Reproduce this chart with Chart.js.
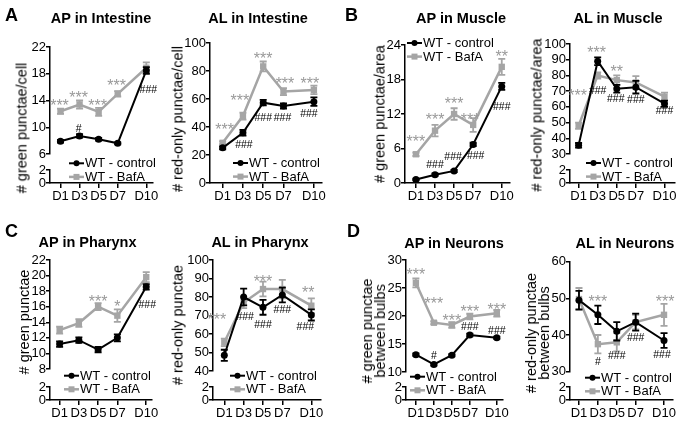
<!DOCTYPE html>
<html>
<head>
<meta charset="utf-8">
<script src="https://cdn.jsdelivr.net/npm/chart.js@4.4.1/dist/chart.umd.min.js"></script>
<style>
  body { margin: 0; background: #fff; width: 685px; height: 425px; position: relative; overflow: hidden;
         font-family: "Liberation Sans", Arial, sans-serif; color: #000; }
  canvas { position: absolute; }
  .ttl { position: absolute; transform: translate(-50%, -50%); white-space: nowrap; font-weight: bold; font-size: 14.5px; }
  .ytl { position: absolute; transform: translate(-50%, -50%) rotate(-90deg); white-space: nowrap; font-size: 14.5px;
         text-align: center; line-height: 13px; }
  .let { position: absolute; transform: translateY(-50%); font-weight: bold; font-size: 18px; }
</style>
</head>
<body>
<script>
// ---- data ----
const days = [1, 3, 5, 7, 10];
const dayLabels = ['D1', 'D3', 'D5', 'D7', 'D10'];
const seriesNames = ['WT - control', 'WT - BafA'];
const lowTicks = [0, 2];

// AP in Intestine
const apIntCtrl = [7.9, 8.7, 8.2, 7.6, 18.5];
const apIntCtrlErr = [0.2, 0.25, 0.2, 0.15, 0.5];
const apIntBafA = [12.4, 13.4, 12.3, 15.0, 18.9];
const apIntBafAErr = [0.4, 0.6, 0.6, 0.4, 0.8];
const apIntStars = ['***', '***', '***', '***', ''];
const apIntHashes = ['', '#', '', '', '###'];
const apIntTicks = [6, 10, 14, 18, 22];

// AL in Intestine
const alIntCtrl = [25.1, 35.9, 57.4, 55.0, 58.1];
const alIntCtrlErr = [1, 2, 2, 1.8, 3];
const alIntBafA = [28.7, 47.8, 83.3, 65.3, 66.5];
const alIntBafAErr = [1, 2.5, 3.5, 2.5, 3];
const alIntStars = ['***', '***', '***', '***', '***'];
const alIntHashes = ['', '###', '###', '###', '###'];
const alIntTicks = [0, 20, 40, 60, 80, 100];

// AP in Muscle
const apMusCtrl = [0.6, 1.45, 2.1, 6.7, 16.8];
const apMusCtrlErr = [0.15, 0.2, 0.2, 0.3, 0.6];
const apMusBafA = [5.0, 9.1, 12.0, 10.1, 20.2];
const apMusBafAErr = [0.3, 1.0, 1.0, 1.2, 1.4];
const apMusStars = ['***', '***', '***', '***', '**'];
const apMusHashes = ['', '###', '###', '###', '###'];
const apMusTicks = [0, 6, 12, 18, 24];

// AL in Muscle
const alMusCtrl = [35.5, 89, 71.5, 72.5, 62];
const alMusCtrlErr = [1.5, 2.5, 2.5, 4, 2];
const alMusBafA = [48, 80, 77, 75.5, 66.5];
const alMusBafAErr = [2, 2, 3, 4, 2.5];
const alMusStars = ['***', '***', '**', '', ''];
const alMusHashes = ['', '###', '###', '###', '###'];
const alMusTicks = [30, 40, 50, 60, 70, 80, 90, 100];

// AP in Pharynx
const apPhaCtrl = [11.2, 11.7, 10.5, 12.0, 18.55];
const apPhaCtrlErr = [0.35, 0.35, 0.35, 0.45, 0.35];
const apPhaBafA = [13.0, 13.9, 16.0, 14.85, 19.8];
const apPhaBafAErr = [0.45, 0.5, 0.45, 0.8, 0.65];
const apPhaStars = ['', '', '***', '*', ''];
const apPhaHashes = ['', '', '', '', '###'];
const apPhaTicks = [8, 10, 12, 14, 16, 18, 20, 22];

// AL in Pharynx
const alPhaCtrl = [48.5, 80, 74.4, 81.1, 70.3];
const alPhaCtrlErr = [3, 4.5, 4, 4, 3];
const alPhaBafA = [55.5, 77, 84.3, 84.3, 75.3];
const alPhaBafAErr = [2, 3, 4, 5, 4];
const alPhaStars = ['***', '', '***', '', '**'];
const alPhaHashes = ['', '###', '###', '###', '###'];
const alPhaTicks = [40, 50, 60, 70, 80, 90, 100];

// AP in Neurons
const apNeuCtrl = [13.1, 11.35, 13.0, 16.6, 16.1];
const apNeuCtrlErr = [0.2, 0.2, 0.2, 0.25, 0.2];
const apNeuBafA = [25.9, 18.8, 18.4, 19.9, 20.5];
const apNeuBafAErr = [0.8, 0.25, 0.5, 0.5, 0.6];
const apNeuStars = ['***', '***', '***', '***', '***'];
const apNeuHashes = ['', '#', '', '###', '###'];
const apNeuTicks = [10, 15, 20, 25, 30];

// AL in Neurons
const alNeuCtrl = [49.5, 45.5, 41.0, 43.5, 38.5];
const alNeuCtrlErr = [2.5, 2.5, 2.5, 2.3, 2];
const alNeuBafA = [49.8, 37.5, 38.0, 43.5, 45.5];
const alNeuBafAErr = [3, 2.5, 2.5, 2, 3];
const alNeuStars = ['', '***', '', '', '***'];
const alNeuHashes = ['', '#', '###', '###', '###'];
const alNeuTicks = [30, 40, 50, 60];

// ---- layout ----
const GRAY = '#a5a5a5';
const FONT = '"Liberation Sans", Arial, sans-serif';
Chart.defaults.font.family = FONT;
Chart.defaults.color = '#000';

const panels = [
  { left: 0, top: 0, w: 170, h: 210, area: { l: 50, t: 47, r: 153, b: 183 }, xMin: -0.1, xMax: 10.7,
    ticks: apIntTicks, split: [107, 16, 13], ctrl: apIntCtrl, ctrlErr: apIntCtrlErr, bafa: apIntBafA, bafaErr: apIntBafAErr,
    stars: apIntStars, hashes: apIntHashes,
    starAt: [[-1, -9.5], [-1, -11], [-1, -10], [-1, -12], [0, 0]], hashAt: [[0, 0], [-1, -8], [0, 0], [0, 0], [2, 19]],
    title: 'AP in Intestine', titleAt: [101, 18], yTitle: ['# green punctae/cell'], yTitleAt: [21.7, 128], legendAt: [69, 163.3] },
  { left: 170, top: 0, w: 170, h: 210, area: { l: 40, t: 43, r: 152, b: 183 }, xMin: -0.25, xMax: 10.8,
    ticks: alIntTicks, split: null, ctrl: alIntCtrl, ctrlErr: alIntCtrlErr, bafa: alIntBafA, bafaErr: alIntBafAErr,
    stars: alIntStars, hashes: alIntHashes,
    starAt: [[2, -17], [-3, -19], [0, -11.5], [1.5, -11.5], [-4, -10]], hashAt: [[0, 0], [1, 11], [0, 15], [-1, 11], [-5, 12]],
    title: 'AL in Intestine', titleAt: [88, 18], yTitle: ['# red-only punctae/cell'], yTitleAt: [7.5, 118.5], legendAt: [63, 163] },
  { left: 340, top: 0, w: 175, h: 210, area: { l: 65, t: 45, r: 171, b: 183 }, xMin: -0.15, xMax: 10.8,
    ticks: apMusTicks, split: null, ctrl: apMusCtrl, ctrlErr: apMusCtrlErr, bafa: apMusBafA, bafaErr: apMusBafAErr,
    stars: apMusStars, hashes: apMusHashes,
    starAt: [[0, -16], [0, -15], [0, -14], [-3, -9], [0, -13.5]], hashAt: [[0, 0], [0, -10], [-1, -15], [2.5, 10.5], [0, 20]],
    title: 'AP in Muscle', titleAt: [121, 18], yTitle: ['# green punctae/area'], yTitleAt: [39.5, 113.5], legendAt: [67, 43] },
  { left: 510, top: 0, w: 175, h: 210, area: { l: 60, t: 44, r: 165, b: 183 }, xMin: 0.1, xMax: 11.1,
    ticks: alMusTicks, split: [110, 16, 13], ctrl: alMusCtrl, ctrlErr: alMusCtrlErr, bafa: alMusBafA, bafaErr: alMusBafAErr,
    stars: alMusStars, hashes: alMusHashes,
    starAt: [[-1, -34], [-1, -27], [0, -12], [0, 0], [0, 0]], hashAt: [[0, 0], [0, 29], [-1, 9.5], [0, 12], [0, 7]],
    title: 'AL in Muscle', titleAt: [108, 18], yTitle: ['# red-only punctae/area'], yTitleAt: [27, 115], legendAt: [76, 163] },
  { left: 0, top: 210, w: 170, h: 215, area: { l: 50, t: 50, r: 152, b: 190 }, xMin: 0, xMax: 10.6,
    ticks: apPhaTicks, split: [109, 18, 13], ctrl: apPhaCtrl, ctrlErr: apPhaCtrlErr, bafa: apPhaBafA, bafaErr: apPhaBafAErr,
    stars: apPhaStars, hashes: apPhaHashes,
    starAt: [[0, 0], [0, 0], [0, -9], [0, -12.5], [0, 0]], hashAt: [[0, 0], [0, 0], [0, 0], [0, 0], [1, 17.5]],
    title: 'AP in Pharynx', titleAt: [87.5, 31.7], yTitle: ['# green punctae'], yTitleAt: [24, 112], legendAt: [64, 165.7] },
  { left: 170, top: 210, w: 170, h: 215, area: { l: 43, t: 50, r: 151, b: 190 }, xMin: -0.17, xMax: 11.0,
    ticks: alPhaTicks, split: [111, 16, 13], ctrl: alPhaCtrl, ctrlErr: alPhaCtrlErr, bafa: alPhaBafA, bafaErr: alPhaBafAErr,
    stars: alPhaStars, hashes: alPhaHashes,
    starAt: [[-7.5, -26.5], [0, 0], [0, -11], [0, 0], [-3, -17]], hashAt: [[0, 0], [1.5, 19.5], [0, 17], [0, 14], [-6, 11.7]],
    title: 'AL in Pharynx', titleAt: [90, 31.7], yTitle: ['# red-only punctae'], yTitleAt: [8, 115], legendAt: [60, 165.7] },
  { left: 340, top: 210, w: 170, h: 215, area: { l: 66, t: 50, r: 166.5, b: 190 }, xMin: -0.1, xMax: 10.64,
    ticks: apNeuTicks, split: [112, 15, 13], ctrl: apNeuCtrl, ctrlErr: apNeuCtrlErr, bafa: apNeuBafA, bafaErr: apNeuBafAErr,
    stars: apNeuStars, hashes: apNeuHashes,
    starAt: [[0, -12], [0, -23], [0, -8], [0, -8.5], [0, -7.5]], hashAt: [[0, 0], [0, -9], [0, 0], [0, -9], [0, -7.6]],
    title: 'AP in Neurons', titleAt: [114, 33], yTitle: ['# green punctae', 'between bulbs'], yTitleAt: [34, 121], legendAt: [70, 166.7] },
  { left: 510, top: 210, w: 175, h: 215, area: { l: 60, t: 51.6, r: 163, b: 190 }, xMin: 0.05, xMax: 10.95,
    ticks: alNeuTicks, split: [110.1, 15.3, 13], ctrl: alNeuCtrl, ctrlErr: alNeuCtrlErr, bafa: alNeuBafA, bafaErr: alNeuBafAErr,
    stars: alNeuStars, hashes: alNeuHashes,
    starAt: [[0, 0], [0, -46], [0, 0], [0, 0], [1, -16.5]], hashAt: [[0, 0], [0, 46], [0, 24], [0, 15.5], [-2, 13.5]],
    title: 'AL in Neurons', titleAt: [115, 33], yTitle: ['# red-only punctae', 'between bulbs'], yTitleAt: [28, 123], legendAt: [75, 167.7] }
];

const letters = [['A', 5, 15], ['B', 345, 15], ['C', 5, 231], ['D', 347, 231]];

// error bars, significance marks and the legend
function decor(p) {
  return {
    id: 'decor',
    afterDatasetDraw(chart, args) {
      const ds = chart.data.datasets[args.index];
      const ys = chart.scales[args.meta.yAxisID];
      const ctx = chart.ctx;
      ctx.save();
      ctx.strokeStyle = ds.borderColor;
      ctx.lineWidth = 1.8;
      args.meta.data.forEach((pt, i) => {
        const v = ds.data[i].y, e = ds.errors[i];
        const y1 = ys.getPixelForValue(v + e), y2 = ys.getPixelForValue(v - e);
        ctx.beginPath();
        ctx.moveTo(pt.x, y1); ctx.lineTo(pt.x, y2);
        ctx.moveTo(pt.x - 3.5, y1); ctx.lineTo(pt.x + 3.5, y1);
        ctx.moveTo(pt.x - 3.5, y2); ctx.lineTo(pt.x + 3.5, y2);
        ctx.stroke();
      });
      ctx.restore();
    },
    afterDraw(chart) {
      const ctx = chart.ctx;
      const ctrlPts = chart.getDatasetMeta(0).data;
      const bafPts = chart.getDatasetMeta(1).data;
      ctx.save();
      ctx.textAlign = 'center';
      ctx.textBaseline = 'alphabetic';
      ctx.fillStyle = '#999';
      ctx.font = '16px ' + FONT;
      p.stars.forEach((s, i) => {
        if (!s) return;
        const pt = bafPts[i];
        ctx.fillText(s, pt.x + p.starAt[i][0], pt.y + p.starAt[i][1] + 0.57 * 16);
      });
      ctx.fillStyle = '#000';
      ctx.font = '10.5px ' + FONT;
      p.hashes.forEach((s, i) => {
        if (!s) return;
        const pt = ctrlPts[i];
        ctx.fillText(s, pt.x + p.hashAt[i][0], pt.y + p.hashAt[i][1] + 0.36 * 10.5);
      });

      // legend
      const [lx, ly] = p.legendAt;
      ctx.textAlign = 'left';
      ctx.textBaseline = 'middle';
      ctx.font = '13px ' + FONT;
      chart.data.datasets.forEach((ds, i) => {
        const y = ly + i * 13.6;
        ctx.strokeStyle = ds.borderColor;
        ctx.fillStyle = ds.borderColor;
        ctx.lineWidth = ds.borderWidth;
        ctx.beginPath(); ctx.moveTo(lx, y); ctx.lineTo(lx + 15, y); ctx.stroke();
        if (i === 0) {
          ctx.beginPath(); ctx.arc(lx + 7.5, y, 3, 0, Math.PI * 2); ctx.fill();
        } else {
          ctx.fillRect(lx + 4.5, y - 3, 6, 6);
        }
        ctx.fillStyle = '#000';
        ctx.fillText(seriesNames[i], lx + 16, y + 0.5);
      });
      ctx.restore();
    }
  };
}

const xGrid = { drawOnChartArea: false, drawTicks: true, tickLength: 5, color: '#000', lineWidth: 1.5 };
const yGrid = { drawOnChartArea: false, drawTicks: true, tickLength: 4, color: '#000', lineWidth: 1.5 };
const axisBorder = { color: '#000', width: 1.5 };
const tickFont = { size: 13, family: FONT };

function yScale(p, min, max, tickVals, stackWeight, weight) {
  const s = {
    type: 'linear', position: 'left', min: min, max: max,
    grid: yGrid, border: axisBorder,
    ticks: { font: tickFont, color: '#000', padding: 0, autoSkip: false },
    afterBuildTicks: sc => { sc.ticks = tickVals.map(v => ({ value: v })); },
    afterFit: sc => { sc.width = p.area.l; }
  };
  if (stackWeight) { s.stack = 'v'; s.stackWeight = stackWeight; s.weight = weight; }
  return s;
}

panels.forEach(p => {
  const cv = document.createElement('canvas');
  cv.width = p.w; cv.height = p.h;
  cv.style.left = p.left + 'px'; cv.style.top = p.top + 'px';
  document.body.appendChild(cv);

  const scales = {
    x: {
      type: 'linear', position: 'bottom', min: p.xMin, max: p.xMax,
      grid: xGrid, border: axisBorder,
      ticks: { font: tickFont, color: '#000', padding: 1, autoSkip: false, maxRotation: 0,
               callback: v => dayLabels[days.indexOf(v)] || '' },
      afterBuildTicks: sc => { sc.ticks = days.map(v => ({ value: v })); },
      afterFit: sc => { sc.height = p.h - p.area.b; }
    }
  };
  const main = p.ticks;
  if (p.split) {
    scales.y = yScale(p, main[0], main[main.length - 1], main, p.split[0], 3);
    scales.yGap = {
      type: 'linear', position: 'left', min: 0, max: 1, stack: 'v', stackWeight: p.split[1], weight: 2,
      grid: { display: false }, border: { display: false }, ticks: { display: false },
      afterFit: sc => { sc.width = p.area.l; }
    };
    scales.yLow = yScale(p, lowTicks[0], lowTicks[1], lowTicks, p.split[2], 1);
  } else {
    scales.y = yScale(p, main[0], main[main.length - 1], main, 0, 0);
  }

  new Chart(cv, {
    type: 'line',
    data: {
      datasets: [
        { label: seriesNames[0], data: days.map((d, i) => ({ x: d, y: p.ctrl[i] })), errors: p.ctrlErr,
          borderColor: '#000', backgroundColor: '#000', borderWidth: 2, pointStyle: 'circle', pointRadius: 3.5,
          pointBorderWidth: 0, tension: 0, yAxisID: 'y', clip: false },
        { label: seriesNames[1], data: days.map((d, i) => ({ x: d, y: p.bafa[i] })), errors: p.bafaErr,
          borderColor: GRAY, backgroundColor: GRAY, borderWidth: 2.5, pointStyle: 'rect', pointRadius: 4.5,
          pointBorderWidth: 0, tension: 0, yAxisID: 'y', clip: false }
      ]
    },
    options: {
      responsive: false,
      animation: false,
      events: [],
      layout: { padding: { left: 0, top: p.area.t, right: p.w - p.area.r, bottom: 0 } },
      scales: scales,
      plugins: { legend: { display: false }, tooltip: { enabled: false }, title: { display: false } }
    },
    plugins: [decor(p)]
  });

  const t = document.createElement('div');
  t.className = 'ttl';
  t.textContent = p.title;
  t.style.left = (p.left + p.titleAt[0]) + 'px';
  t.style.top = (p.top + p.titleAt[1]) + 'px';
  document.body.appendChild(t);

  const yt = document.createElement('div');
  yt.className = 'ytl';
  yt.innerHTML = p.yTitle.join('<br>');
  yt.style.left = (p.left + p.yTitleAt[0]) + 'px';
  yt.style.top = (p.top + p.yTitleAt[1]) + 'px';
  document.body.appendChild(yt);
});

letters.forEach(([s, x, y]) => {
  const d = document.createElement('div');
  d.className = 'let';
  d.textContent = s;
  d.style.left = x + 'px';
  d.style.top = y + 'px';
  document.body.appendChild(d);
});
</script>
</body>
</html>
